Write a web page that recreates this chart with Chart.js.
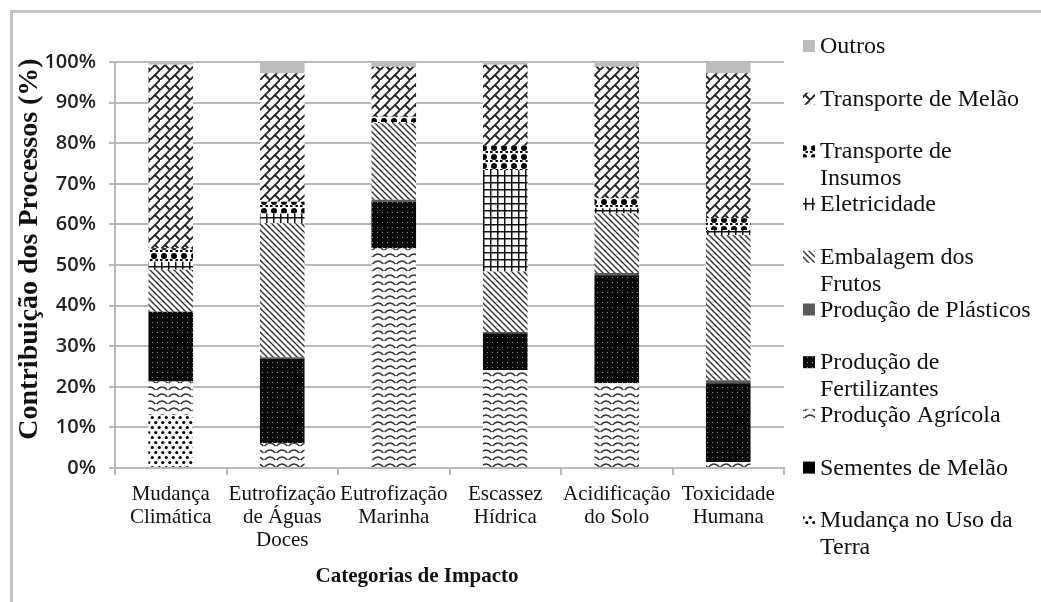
<!DOCTYPE html>
<html>
<head>
<meta charset="utf-8">
<script src="https://cdn.jsdelivr.net/npm/chart.js"></script>
<style>
  body { margin: 0; background: #fff; }
  canvas { display: block; }
</style>
</head>
<body>
<canvas id="chart" width="1041" height="602"></canvas>
<script>
// Categorias de impacto (eixo x)
const categories = [
  ['Mudança', 'Climática'],
  ['Eutrofização', 'de Águas', 'Doces'],
  ['Eutrofização', 'Marinha'],
  ['Escassez', 'Hídrica'],
  ['Acidificação', 'do Solo'],
  ['Toxicidade', 'Humana']
];

// Contribuição de cada processo (%)
const mudancaUsoTerra       = [13.0, 0, 0, 0, 0, 0];
const sementesMelao         = [0, 0, 0, 0, 0, 0];
const producaoAgricola      = [8.3, 6.1, 54.1, 24.1, 20.9, 1.5];
const producaoFertilizantes = [17.2, 20.9, 11.5, 9.1, 26.6, 19.4];
const producaoPlasticos     = [0, 0.3, 0.5, 0.3, 0.5, 0.7];
const embalagemFrutos       = [10.3, 33.0, 18.8, 14.9, 14.7, 35.8];
const eletricidade          = [2.0, 2.4, 0.3, 25.0, 1.3, 1.2];
const transporteInsumos     = [3.3, 2.9, 1.3, 6.1, 2.4, 2.9];
const transporteMelao       = [45.2, 31.6, 12.3, 19.8, 32.4, 35.7];
const outros                = [0.7, 2.8, 1.2, 0.7, 1.2, 2.8];

const yTicks = [0, 10, 20, 30, 40, 50, 60, 70, 80, 90, 100];

const xTitle = 'Categorias de Impacto';
const yTitle = 'Contribuição dos Processos (%)';

const canvas = document.getElementById('chart');
const mainCtx = canvas.getContext('2d');

// Small helper for the hatch fills
function makePattern(w, h, draw) {
  const c = document.createElement('canvas');
  c.width = w;
  c.height = h;
  const g = c.getContext('2d');
  g.fillStyle = '#fff';
  g.fillRect(0, 0, w, h);
  draw(g);
  return mainCtx.createPattern(c, 'repeat');
}

const patDots = makePattern(7, 10, g => {
  g.fillStyle = '#000';
  g.beginPath(); g.arc(1.75, 2.5, 1.6, 0, Math.PI * 2); g.fill();
  g.beginPath(); g.arc(5.25, 7.5, 1.6, 0, Math.PI * 2); g.fill();
});

const patWaves = makePattern(12, 7, g => {
  g.strokeStyle = '#333';
  g.lineWidth = 1.4;
  g.beginPath();
  g.moveTo(0.5, 5);
  g.quadraticCurveTo(6, -1, 11.5, 5);
  g.stroke();
});

const patFert = makePattern(5, 5, g => {
  g.fillStyle = '#0a0a0a';
  g.fillRect(0, 0, 5, 5);
  g.fillStyle = '#8a8a8a';
  g.fillRect(2, 2, 1, 1);
});

const patStripes = makePattern(6, 6, g => {
  g.strokeStyle = '#3a3a3a';
  g.lineWidth = 1.5;
  g.beginPath();
  g.moveTo(-1, -1); g.lineTo(7, 7);
  g.moveTo(-1, 5); g.lineTo(1, 7);
  g.moveTo(5, -1); g.lineTo(7, 1);
  g.stroke();
});

const patGrid = makePattern(7, 7, g => {
  g.fillStyle = '#111';
  g.fillRect(0, 0, 7, 1.5);
  g.fillRect(0, 0, 1.5, 7);
});

const patInsumos = makePattern(10, 9, g => {
  g.fillStyle = '#000';
  g.beginPath(); g.arc(4, 4, 3, 0, Math.PI * 2); g.fill();
  g.fillRect(0, 7, 2.5, 2);
  g.fillRect(5.5, 7, 2.5, 2);
});

const patBrick = makePattern(20, 20, g => {
  g.strokeStyle = '#222';
  g.lineWidth = 1.8;
  g.beginPath();
  g.moveTo(0, 20); g.lineTo(20, 0);
  g.moveTo(0, 10); g.lineTo(10, 0);
  g.moveTo(10, 20); g.lineTo(20, 10);
  g.moveTo(5, 5); g.lineTo(10, 10);
  g.moveTo(15, 15); g.lineTo(20, 20);
  g.moveTo(15, 5); g.lineTo(20, 10);
  g.moveTo(5, 15); g.lineTo(10, 20);
  g.stroke();
});

// Excel-like side legend with fixed slots and word wrap
function wrapText(ctx, text, maxWidth) {
  const words = text.split(' ');
  const lines = [];
  let line = '';
  words.forEach(w => {
    const test = line ? line + ' ' + w : w;
    if (line && ctx.measureText(test).width > maxWidth) {
      lines.push(line);
      line = w;
    } else {
      line = test;
    }
  });
  lines.push(line);
  return lines;
}

const sideLegend = {
  id: 'sideLegend',
  beforeDraw(chart) {
    const ctx = chart.ctx;
    ctx.save();
    ctx.strokeStyle = '#c4c4c4';
    ctx.lineWidth = 3;
    ctx.beginPath();
    ctx.moveTo(11.5, 602);
    ctx.lineTo(11.5, 11.5);
    ctx.lineTo(1041, 11.5);
    ctx.stroke();
    ctx.restore();
  },
  afterDraw(chart) {
    const ctx = chart.ctx;
    ctx.save();

    // axis titles (placed like the original, not centred on the plot)
    ctx.fillStyle = '#111';
    ctx.textAlign = 'center';
    ctx.textBaseline = 'middle';
    ctx.font = 'bold 21px "Liberation Serif"';
    ctx.fillText(xTitle, 417, 577);
    ctx.save();
    ctx.translate(30, 249);
    ctx.rotate(-Math.PI / 2);
    ctx.font = 'bold 28px "Liberation Serif"';
    ctx.fillText(yTitle, 0, 0);
    ctx.restore();

    // legend, top item = last dataset
    const items = chart.data.datasets.slice().reverse();
    ctx.textAlign = 'left';
    ctx.textBaseline = 'alphabetic';
    ctx.font = '24px "Liberation Serif"';
    items.forEach((ds, i) => {
      const base = 53 + i * 52.7;
      ctx.fillStyle = ds.backgroundColor;
      ctx.fillRect(803, base - 13, 12, 12);
      ctx.fillStyle = '#111';
      wrapText(ctx, ds.label, 214).forEach((line, j) => {
        ctx.fillText(line, 820, base + j * 27);
      });
    });
    ctx.restore();
  }
};

const seriesDefs = [
  ['Mudança no Uso da Terra', mudancaUsoTerra, patDots],
  ['Sementes de Melão', sementesMelao, '#000'],
  ['Produção Agrícola', producaoAgricola, patWaves],
  ['Produção de Fertilizantes', producaoFertilizantes, patFert],
  ['Produção de Plásticos', producaoPlasticos, '#5a5a5a'],
  ['Embalagem dos Frutos', embalagemFrutos, patStripes],
  ['Eletricidade', eletricidade, patGrid],
  ['Transporte de Insumos', transporteInsumos, patInsumos],
  ['Transporte de Melão', transporteMelao, patBrick],
  ['Outros', outros, '#bdbdbd']
];

Chart.defaults.font.family = '"Liberation Serif", serif';
Chart.defaults.color = '#111';

new Chart(canvas, {
  type: 'bar',
  data: {
    labels: categories,
    datasets: seriesDefs.map(([label, data, fill]) => ({
      label: label,
      data: data,
      backgroundColor: fill,
      borderWidth: 0,
      barPercentage: 0.4,
      categoryPercentage: 1.0
    }))
  },
  options: {
    responsive: false,
    animation: false,
    devicePixelRatio: 1,
    layout: { padding: { top: 62, right: 257, bottom: 0, left: 0 } },
    plugins: {
      legend: { display: false },
      tooltip: { enabled: false }
    },
    scales: {
      x: {
        stacked: true,
        afterFit: scale => { scale.height = 134; },
        grid: {
          drawOnChartArea: false,
          drawTicks: true,
          tickLength: 7,
          color: '#b9b9b9',
          lineWidth: 2
        },
        border: { color: '#b9b9b9', width: 2 },
        ticks: {
          font: { size: 21, lineHeight: 1.1 },
          color: '#111',
          padding: 8,
          maxRotation: 0,
          autoSkip: false
        }
      },
      y: {
        stacked: true,
        min: 0,
        max: 100,
        afterFit: scale => { scale.width = 115; },
        afterBuildTicks: scale => { scale.ticks = yTicks.map(v => ({ value: v })); },
        grid: {
          color: '#b9b9b9',
          lineWidth: 2,
          tickLength: 6
        },
        border: { color: '#b9b9b9', width: 2 },
        ticks: {
          font: { family: '"Open Sans", sans-serif', size: 20, weight: '600' },
          color: '#222',
          padding: 13,
          callback: v => v + '%'
        }
      }
    }
  },
  plugins: [sideLegend]
});
</script>
</body>
</html>
